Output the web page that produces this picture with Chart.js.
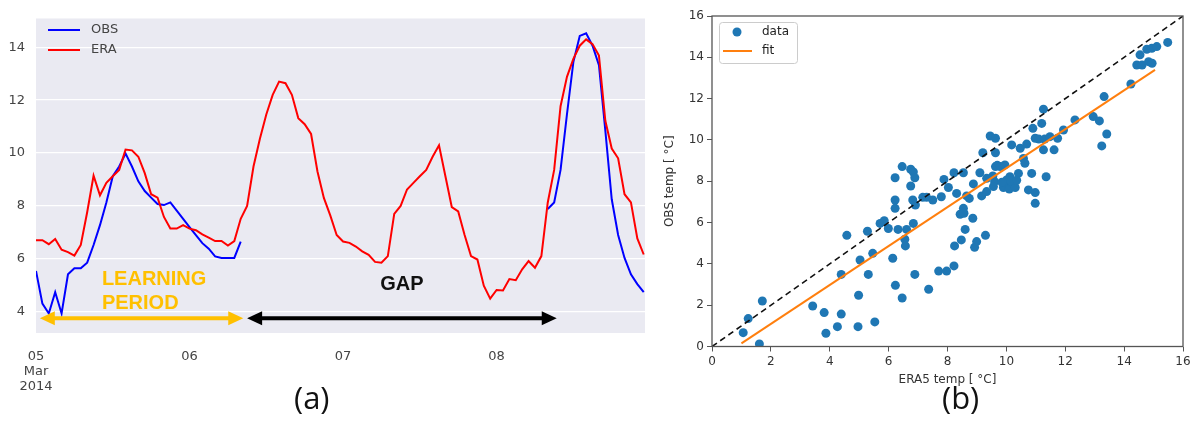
<!DOCTYPE html>
<html>
<head>
<meta charset="utf-8">
<script src="https://cdn.jsdelivr.net/npm/chart.js@4.4.1/dist/chart.umd.min.js"></script>
<style>
  body { margin: 0; background: #fff; }
  #wrap { position: relative; width: 1197px; height: 421px; overflow: hidden; }
  canvas { position: absolute; top: 0; }
  #tsChart { left: 0; }
  #scChart { left: 650px; }
  .tag { position: absolute; font-family: 'Open Sans', sans-serif; font-size: 31px; color: #111; line-height: 1; }
</style>
</head>
<body>
<div id="wrap">
  <canvas id="tsChart" width="660" height="421"></canvas>
  <canvas id="scChart" width="547" height="421"></canvas>
  <div class="tag" style="left:294px;top:382px">(a)</div>
  <div class="tag" style="left:942px;top:382px">(b)</div>
</div>
<script>
// panel (a): hourly temperature from 05 Mar 2014 00:00
const dayTicks = [0, 24, 48, 72];
const dayLabels = [['05', 'Mar', '2014'], '06', '07', '08'];
const tempTicks = [4, 6, 8, 10, 12, 14];

const obsSeries = [
    5.54, 4.30, 3.93, 4.73, 3.93, 5.41, 5.64, 5.64, 5.85, 6.52, 7.27, 8.13,
    9.12, 9.49, 9.98, 9.49, 8.93, 8.56, 8.31, 8.07, 8.03, 8.13, 7.82, 7.51,
    7.20, 6.89, 6.59, 6.38, 6.09, 6.03, 6.03, 6.03, 6.65,
    null, null, null, null, null, null, null, null, null, null, null, null,
    null, null, null, null, null, null, null, null, null, null, null, null,
    null, null, null, null, null, null, null, null, null, null, null, null,
    null, null, null, null, null, null, null, null, null, null, null,
    7.88, 8.13, 9.36, 11.46, 13.44, 14.43, 14.53, 14.06, 13.32, 10.85, 8.25, 6.90,
    6.03, 5.41, 5.04, 4.74
];

const eraSeries = [
    6.70, 6.70, 6.55, 6.75, 6.34, 6.25, 6.12, 6.52, 7.76, 9.14, 8.40, 8.87,
    9.12, 9.36, 10.13, 10.10, 9.86, 9.24, 8.44, 8.31, 7.58, 7.14, 7.14, 7.27,
    7.14, 7.08, 6.92, 6.80, 6.67, 6.67, 6.50, 6.67, 7.51, 8.00, 9.49, 10.54,
    11.46, 12.20, 12.70, 12.64, 12.20, 11.32, 11.09, 10.72, 9.30, 8.30, 7.64, 6.90,
    6.65, 6.60, 6.46, 6.28, 6.15, 5.88, 5.85, 6.10, 7.70, 8.00, 8.62, 8.87,
    9.12, 9.36, 9.86, 10.29, 9.12, 7.95, 7.79, 6.90, 6.10, 5.97, 4.98, 4.49,
    4.82, 4.80, 5.23, 5.19, 5.60, 5.91, 5.66, 6.10, 8.13, 9.36, 11.77, 12.88,
    13.56, 14.06, 14.30, 14.12, 13.69, 11.22, 10.17, 9.80, 8.44, 8.13, 6.77, 6.16
];

// panel (b): ERA5 vs OBS scatter
const eraTemp = [
    1.06, 1.23, 1.61, 1.71, 3.42, 3.81, 3.87, 4.26, 4.39, 4.39, 4.58, 4.96, 4.98, 5.03,
    5.28, 5.31, 5.46, 5.53, 5.71, 5.85, 5.99, 6.14, 6.23, 6.22, 6.22, 6.22, 6.32, 6.46,
    6.46, 6.55, 6.57, 6.61, 6.75, 6.84, 6.89, 6.75, 6.82, 6.84, 6.91, 6.89, 7.16, 7.29,
    7.50, 7.36, 7.70, 7.79, 7.88, 7.97, 8.03, 8.22, 8.22, 8.24, 8.31, 8.43, 8.47, 8.54,
    8.54, 8.56, 8.60, 8.65, 8.74, 8.86, 8.88, 8.92, 8.99, 9.10, 9.16, 9.20, 9.29, 9.33,
    9.45, 9.54, 9.60, 9.63, 9.63, 9.63, 9.69, 9.56, 9.33, 9.79, 9.95, 10.12, 10.18, 10.01,
    10.41, 10.47, 10.69, 10.58, 10.63, 10.86, 10.75, 10.98, 10.98, 10.90, 10.98, 11.20, 11.26, 11.35,
    11.10, 11.30, 11.26, 11.62, 11.48, 11.74, 11.94, 12.33, 12.95, 13.16, 13.32, 13.41, 13.24, 14.23,
    14.43, 14.61, 14.83, 14.95, 14.54, 14.77, 14.94, 15.11, 15.48,
    9.90, 10.00, 10.10, 10.20, 10.30, 10.15, 10.35, 9.85
];
const obsTemp = [
    0.67, 1.35, 0.12, 2.20, 1.96, 1.64, 0.64, 0.96, 1.57, 3.49, 5.38, 0.96, 2.48, 4.19,
    5.58, 3.49, 4.51, 1.19, 5.96, 6.09, 5.71, 4.27, 2.96, 8.17, 7.09, 6.69, 5.67, 8.71,
    2.35, 5.19, 4.87, 5.67, 8.58, 8.45, 8.17, 7.77, 7.09, 5.96, 6.85, 3.49, 7.22, 7.22,
    7.09, 2.77, 3.65, 7.25, 8.09, 3.65, 7.70, 8.41, 3.90, 4.87, 7.41, 6.40, 5.16, 6.69,
    8.41, 6.45, 5.67, 7.29, 7.17, 6.21, 7.87, 4.80, 5.08, 8.41, 7.29, 9.38, 5.38, 8.14,
    10.19, 8.26, 7.98, 10.08, 9.38, 8.71, 8.77, 7.74, 7.50, 8.71, 8.79, 8.22, 9.76, 8.06,
    8.38, 9.60, 9.80, 9.10, 8.87, 8.38, 7.58, 7.45, 6.93, 10.56, 10.08, 10.80, 11.49, 8.22,
    10.04, 10.04, 9.52, 9.52, 10.16, 10.08, 10.48, 10.97, 11.13, 10.92, 12.10, 10.29, 9.71, 12.71,
    13.63, 13.63, 13.79, 13.71, 14.12, 14.39, 14.44, 14.52, 14.72,
    7.70, 7.90, 7.62, 7.90, 7.70, 8.02, 8.05, 7.95
];
const fitX = [1.0, 15.05];
const fitY = [0.15, 13.39];
const refLine = [0, 16];
const scTicks = [0, 2, 4, 6, 8, 10, 12, 14, 16];

const fontA = { family: 'DejaVu Sans', size: 13, lineHeight: 1.15 };
const fontB = { family: 'DejaVu Sans', size: 12 };

const toXY = arr => arr.map((v, i) => ({ x: i, y: v }));

const darkBg = {
    id: 'darkBg',
    beforeDraw(chart) {
        const a = chart.chartArea, ctx = chart.ctx;
        ctx.save();
        ctx.fillStyle = '#eaeaf2';
        ctx.fillRect(a.left, a.top, a.right - a.left, a.bottom - a.top);
        ctx.restore();
    }
};

const legendA = {
    id: 'legendA',
    afterDatasetsDraw(chart) {
        const ctx = chart.ctx;
        ctx.save();
        chart.data.datasets.forEach((ds, i) => {
            const y = 30 + i * 20;
            ctx.strokeStyle = ds.borderColor;
            ctx.lineWidth = 2;
            ctx.beginPath();
            ctx.moveTo(48, y);
            ctx.lineTo(80, y);
            ctx.stroke();
            ctx.fillStyle = '#444';
            ctx.font = '13px "DejaVu Sans"';
            ctx.textBaseline = 'middle';
            ctx.fillText(ds.label, 91, y);
        });
        ctx.restore();
    }
};

function drawArrow(ctx, x1, x2, y, color) {
    const head = 15, half = 7;
    ctx.strokeStyle = color;
    ctx.fillStyle = color;
    ctx.lineWidth = 4;
    ctx.beginPath();
    ctx.moveTo(x1 + head - 2, y);
    ctx.lineTo(x2 - head + 2, y);
    ctx.stroke();
    ctx.beginPath();
    ctx.moveTo(x1, y);
    ctx.lineTo(x1 + head, y - half);
    ctx.lineTo(x1 + head, y + half);
    ctx.closePath();
    ctx.fill();
    ctx.beginPath();
    ctx.moveTo(x2, y);
    ctx.lineTo(x2 - head, y - half);
    ctx.lineTo(x2 - head, y + half);
    ctx.closePath();
    ctx.fill();
}

const periodNotes = {
    id: 'periodNotes',
    afterDatasetsDraw(chart) {
        const ctx = chart.ctx, xs = chart.scales.x, ys = chart.scales.y;
        const ay = ys.getPixelForValue(3.75);
        ctx.save();
        drawArrow(ctx, xs.getPixelForValue(0.6), xs.getPixelForValue(32.4), ay, '#ffc000');
        drawArrow(ctx, xs.getPixelForValue(33.0), xs.getPixelForValue(81.4), ay, '#000');
        ctx.font = 'bold 20px "Liberation Sans"';
        ctx.textBaseline = 'middle';
        ctx.fillStyle = '#ffc000';
        ctx.fillText('LEARNING', xs.getPixelForValue(10.3), ys.getPixelForValue(5.22));
        ctx.fillText('PERIOD', xs.getPixelForValue(10.3), ys.getPixelForValue(4.30));
        ctx.fillStyle = '#111';
        ctx.fillText('GAP', xs.getPixelForValue(53.8), ys.getPixelForValue(5.04));
        ctx.restore();
    }
};

new Chart(document.getElementById('tsChart'), {
    type: 'line',
    data: {
        datasets: [
            {
                label: 'OBS',
                data: toXY(obsSeries),
                borderColor: '#0000ff',
                borderWidth: 2,
                pointRadius: 0,
                spanGaps: false,
                order: 1
            },
            {
                label: 'ERA',
                data: toXY(eraSeries),
                borderColor: '#ff0000',
                borderWidth: 2,
                pointRadius: 0,
                order: 0
            }
        ]
    },
    options: {
        responsive: false,
        animation: false,
        layout: { padding: { top: 12, right: 15, left: 0, bottom: 0 } },
        plugins: { legend: { display: false }, tooltip: { enabled: false } },
        scales: {
            x: {
                type: 'linear',
                min: 0,
                max: 95.2,
                afterBuildTicks: s => { s.ticks = dayTicks.map(v => ({ value: v })); },
                afterFit: s => { s.height = 88; },
                grid: { display: false },
                border: { display: false },
                ticks: {
                    padding: 8,
                    color: '#444',
                    font: fontA,
                    autoSkip: false,
                    maxRotation: 0,
                    callback: v => dayLabels[dayTicks.indexOf(v)]
                }
            },
            y: {
                min: 3.19,
                max: 15.09,
                afterBuildTicks: s => { s.ticks = tempTicks.map(v => ({ value: v })); },
                afterFit: s => { s.width = 36; },
                grid: { color: '#ffffff', lineWidth: 1.3, drawTicks: false },
                border: { display: false },
                ticks: { padding: 11, color: '#444', font: fontA }
            }
        }
    },
    plugins: [darkBg, legendA, periodNotes]
});

const frameB = {
    id: 'frameB',
    afterDatasetsDraw(chart) {
        const a = chart.chartArea, ctx = chart.ctx;
        ctx.save();
        ctx.strokeStyle = '#555';
        ctx.lineWidth = 1.3;
        ctx.strokeRect(a.left, a.top, a.right - a.left, a.bottom - a.top);
        ctx.restore();
    }
};

const legendB = {
    id: 'legendB',
    afterDraw(chart) {
        const ctx = chart.ctx;
        ctx.save();
        ctx.fillStyle = 'rgba(255,255,255,0.85)';
        ctx.strokeStyle = '#cccccc';
        ctx.lineWidth = 1;
        ctx.beginPath();
        ctx.roundRect(69.5, 22.5, 78, 41, 3);
        ctx.fill();
        ctx.stroke();
        const pts = chart.data.datasets[0], fit = chart.data.datasets[1];
        ctx.fillStyle = pts.backgroundColor;
        ctx.beginPath();
        ctx.arc(87, 32, 4.5, 0, Math.PI * 2);
        ctx.fill();
        ctx.strokeStyle = fit.borderColor;
        ctx.lineWidth = 2;
        ctx.beginPath();
        ctx.moveTo(73, 51);
        ctx.lineTo(102, 51);
        ctx.stroke();
        ctx.fillStyle = '#222';
        ctx.font = '12px "DejaVu Sans"';
        ctx.textBaseline = 'middle';
        ctx.fillText(pts.label, 112, 32);
        ctx.fillText(fit.label, 112, 51);
        ctx.restore();
    }
};

new Chart(document.getElementById('scChart'), {
    type: 'scatter',
    data: {
        datasets: [
            {
                label: 'data',
                data: eraTemp.map((x, i) => ({ x: x, y: obsTemp[i] })),
                backgroundColor: '#1f77b4',
                borderWidth: 0,
                pointRadius: 4.5,
                order: 3
            },
            {
                type: 'line',
                label: 'fit',
                data: fitX.map((x, i) => ({ x: x, y: fitY[i] })),
                borderColor: '#ff7f0e',
                borderWidth: 2,
                pointRadius: 0,
                order: 2
            },
            {
                type: 'line',
                label: '1:1',
                data: refLine.map(v => ({ x: v, y: v })),
                borderColor: '#111',
                borderWidth: 1.6,
                borderDash: [6, 4],
                pointRadius: 0,
                order: 1
            }
        ]
    },
    options: {
        responsive: false,
        animation: false,
        layout: { padding: { top: 16, right: 14, left: 0, bottom: 0 } },
        plugins: { legend: { display: false }, tooltip: { enabled: false } },
        scales: {
            x: {
                type: 'linear',
                min: 0,
                max: 16,
                afterBuildTicks: s => { s.ticks = scTicks.map(v => ({ value: v })); },
                afterFit: s => { s.height = 74.5; },
                grid: { drawOnChartArea: false, color: '#555', tickLength: 5 },
                border: { display: false },
                ticks: { padding: 3, color: '#333', font: fontB, maxRotation: 0, autoSkip: false },
                title: {
                    display: true,
                    text: 'ERA5 temp [ °C]',
                    color: '#333',
                    font: fontB,
                    padding: { top: 0, bottom: 34 }
                }
            },
            y: {
                min: 0,
                max: 16,
                afterBuildTicks: s => { s.ticks = scTicks.map(v => ({ value: v })); },
                afterFit: s => { s.width = 62; },
                grid: { drawOnChartArea: false, color: '#555', tickLength: 5 },
                border: { display: false },
                ticks: { padding: 3, color: '#333', font: fontB },
                title: {
                    display: true,
                    text: 'OBS temp [ °C]',
                    color: '#333',
                    font: fontB,
                    padding: { top: 13, bottom: 0 }
                }
            }
        }
    },
    plugins: [frameB, legendB]
});
</script>
</body>
</html>
